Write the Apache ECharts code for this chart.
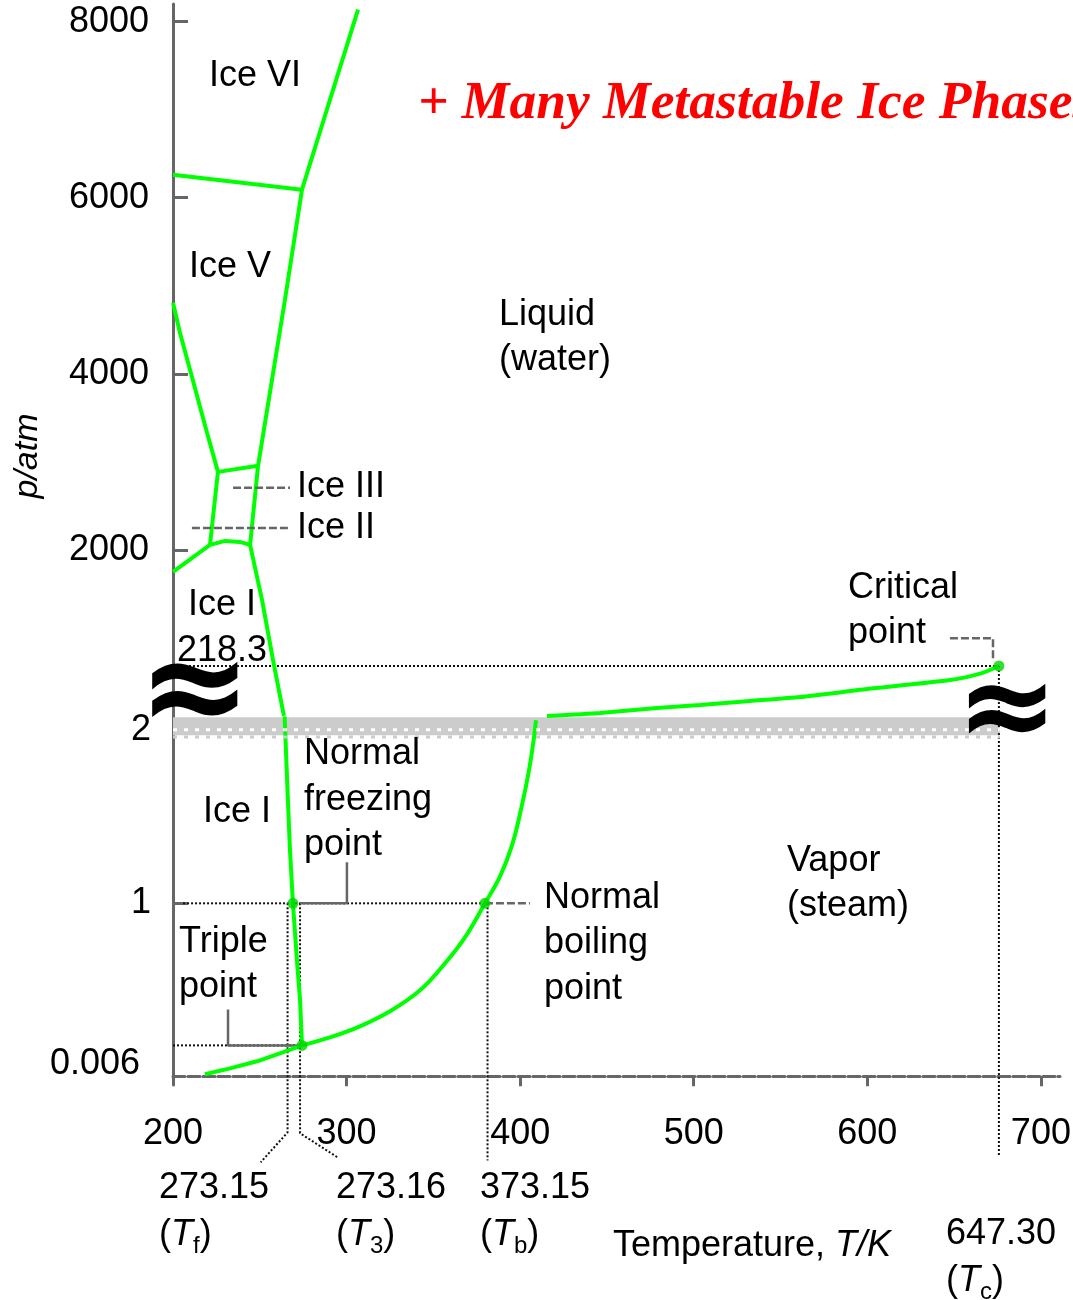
<!DOCTYPE html>
<html><head><meta charset="utf-8">
<script src="https://cdn.jsdelivr.net/npm/echarts@6/dist/echarts.min.js"></script>
<style>html,body{margin:0;padding:0;background:#fff}#c{width:1073px;height:1300px}</style>
</head><body><div id="c"></div>
<script>
// ---------------- data (T in K, p in atm; schematic diagram) -------------
const xRange = [200, 711];
const xTickValues = [200, 300, 400, 500, 600, 700];
const xMinorTicks = [300, 400, 500, 600, 700];

const yTopRange = [0, 8200];                 // upper panel, high pressure
const yTopTickValues = [2000, 4000, 6000, 8000];
const yCritRange = [0, 2627];                // upper panel, scale used near the critical point
const yCritTickValues = [218.3];
const yBotRange = [-0.05, 2.1];              // lower panel, low pressure
const yBotTickValues = [1, 2];
const yTripleRange = [-0.001676, 0.0704];    // lower panel, scale used for the triple-point label
const yTripleTickValues = [0.006];

// upper panel: ice phase boundaries
const iceVI_liquid  = [[306.6, 8136], [274.3, 6091]];
const iceV_VI       = [[200, 6261], [274.3, 6091]];
const iceV_liquid   = [[274.3, 6091], [264.5, 4841], [249.0, 2955]];
const iceV_III      = [[225.9, 2886], [249.0, 2955]];
const iceIII_liquid = [[249.0, 2955], [244.4, 2057]];
const iceII_V       = [[200, 4807], [204.0, 4466], [210.9, 3966], [219.6, 3330], [225.9, 2886]];
const iceII_III     = [[225.9, 2886], [221.3, 2057]];
const iceI_II_III   = [[221.3, 2057], [230.0, 2102], [238.6, 2091], [244.4, 2057]];
const iceI_II_left  = [[200, 1750], [221.3, 2057]];
const iceI_liquidHi = [[244.4, 2057], [251.3, 1432], [257.6, 750], [263.9, 114]];
// upper panel: liquid-vapour curve up to the critical point
const vapourHi      = [[415.4, 36.3], [446.0, 47.2], [478.8, 65.3], [503.6, 76.2], [532.4, 90.8],
                       [561.2, 105.3], [599.8, 134.3], [647.6, 167.0], [666.0, 192.4], [675.8, 218.3]];
const criticalPoint = [[675.8, 218.3]];

// lower panel
const meltingLo     = [[264.3, 2.08], [266.2, 1.595], [267.4, 1.306], [269.1, 1.0], [271.4, 0.671], [273.2, 0.439], [274.3, 0.179]];
const vapourLo      = [[274.3, 0.179], [290.4, 0.225], [307.7, 0.289], [325.0, 0.376], [342.3, 0.497], [356.7, 0.653],
                       [368.2, 0.803], [379.7, 1.0], [388.4, 1.156], [395.3, 1.335], [401.0, 1.566], [405.1, 1.769],
                       [408.0, 1.960], [409.1, 2.058]];
const sublimation   = [[218.4, 0.012], [232.8, 0.046], [248.4, 0.087], [261.6, 0.133], [274.3, 0.179]];
const triplePoint   = [[274.3, 0.179]];
const freezingPoint = [[269.1, 1.0]];
const boilingPoint  = [[379.7, 1.0]];

// guide lines
const critHoriz   = [[202.3, 218.3], [675.8, 218.3]];
const critVertHi  = [[675.8, 218.3], [675.8, 0]];
const critVertLo  = [[675.8, 2.1], [675.8, -0.462]];
const oneAtmLine  = [[205.8, 1.0], [379.7, 1.0]];
const tripleLine  = [[200, 0.179], [274.3, 0.179]];
const tfDrop      = [[266.0, 1.0], [266.0, -0.324], [250.5, -0.497]];
const t3Drop      = [[273.2, 1.0], [273.2, -0.329], [294.8, -0.468]];
const tbDrop      = [[381.2, 1.0], [381.2, -0.486]];
const freezeLead  = [[300.2, 1.237], [300.2, 1.0], [273.2, 1.0]];
const boilLead    = [[379.7, 1.0], [405.6, 1.0]];
const tripleLead  = [[231.7, 0.387], [231.7, 0.179], [274.3, 0.179]];
const critLead    = [[647.6, 319.5], [672.4, 319.5], [672.4, 246.9]];
const iceIIILead  = [[234.6, 2705], [267.4, 2705]];
const iceIILead   = [[210.9, 2250], [267.4, 2250]];
// axis break band
const bandX       = [200, 676.4];
const bandY       = [1.971, 2.075];
const bandWhiteY  = 2.003;
const bandDotY    = 1.962;

// ---------------- styles -------------
const FONT = 'Liberation Sans';
const GREEN = '#00ff00';
const GRAY = '#666666';
const greenStyle = {color: GREEN, width: 4};
const dotted = {color: '#111', width: 2, type: [2, 2]};
const leader = {color: GRAY, width: 2.5};
const leaderDash = {color: GRAY, width: 2.5, type: [8, 3]};

function seg(data, xi, yi, style, z, extra) {
  return Object.assign({type: 'line', xAxisIndex: xi, yAxisIndex: yi, data: data, symbol: 'none',
    showSymbol: false, silent: true, clip: false, lineStyle: style, z: z || 3}, extra || {});
}
function pts(data, xi, yi) {
  return {type: 'scatter', xAxisIndex: xi, yAxisIndex: yi, data: data, symbol: 'circle', symbolSize: 11,
    silent: true, itemStyle: {color: '#00d400'}, z: 8};
}
const richT = {
  i: {fontStyle: 'italic', fontSize: 36, fontFamily: FONT, lineHeight: 47, fill: '#000'},
  s: {fontSize: 24, fontFamily: FONT, lineHeight: 24, verticalAlign: 'bottom', fill: '#000'}
};
function txt(text, x, y, opt) {
  opt = opt || {};
  const va = opt.va || 'middle', al = opt.align || 'left';
  return {type: 'text', x: x, y: y, z: 100, silent: true, rotation: opt.rot || 0,
    style: Object.assign({text: text, fill: '#000', fontSize: 36, fontFamily: FONT, lineHeight: opt.lh || 45.5,
      align: al, verticalAlign: va, textAlign: al, textVerticalAlign: va, rich: opt.rich}, opt.style || {})};
}
const plain = function (v) { return String(v); };
const axisLabelBase = {color: '#000', fontSize: 36, fontFamily: FONT, formatter: plain};

const series = [
  seg(iceVI_liquid, 0, 0, greenStyle), seg(iceV_VI, 0, 0, greenStyle), seg(iceV_liquid, 0, 0, greenStyle),
  seg(iceV_III, 0, 0, greenStyle), seg(iceIII_liquid, 0, 0, greenStyle), seg(iceII_V, 0, 0, greenStyle),
  seg(iceII_III, 0, 0, greenStyle), seg(iceI_II_III, 0, 0, greenStyle), seg(iceI_II_left, 0, 0, greenStyle),
  seg(iceI_liquidHi, 0, 0, greenStyle),
  seg(iceIIILead, 0, 0, leaderDash, 4), seg(iceIILead, 0, 0, leaderDash, 4),
  seg(critHoriz, 0, 1, dotted, 2), seg(critVertHi, 0, 1, dotted, 2), seg(critLead, 0, 1, leaderDash, 2),
  seg(vapourHi, 0, 1, greenStyle, 3, {smooth: 0.2}),
  pts(criticalPoint, 0, 1),
  seg(critVertLo, 1, 2, dotted, 2), seg(oneAtmLine, 1, 2, dotted, 2), seg(tripleLine, 1, 2, dotted, 2),
  seg(tfDrop, 1, 2, dotted, 2), seg(t3Drop, 1, 2, dotted, 2), seg(tbDrop, 1, 2, dotted, 2),
  seg(freezeLead, 1, 2, leader, 2), seg(boilLead, 1, 2, leaderDash, 2), seg(tripleLead, 1, 2, leader, 2),
  seg(meltingLo, 1, 2, greenStyle), seg(vapourLo, 1, 2, greenStyle, 3, {smooth: 0.4}), seg(sublimation, 1, 2, greenStyle),
  pts(triplePoint, 1, 2), pts(freezingPoint, 1, 2), pts(boilingPoint, 1, 2),
  {type: 'line', xAxisIndex: 1, yAxisIndex: 2, data: [], silent: true, z: 6,
   markArea: {silent: true, itemStyle: {color: '#cccccc'},
     data: [[{coord: [bandX[0], bandY[0]]}, {coord: [bandX[1], bandY[1]]}]]}},
  seg([[bandX[0], bandWhiteY], [bandX[1], bandWhiteY]], 1, 2, {color: '#fff', width: 3, type: [4, 7]}, 7),
  seg([[bandX[0], bandDotY], [bandX[1], bandDotY]], 1, 2, {color: '#cccccc', width: 3, type: [4, 7]}, 7)
];

const option = {
  animation: false,
  backgroundColor: '#fff',
  grid: [
    {left: 173, right: 13, top: 4, height: 722, containLabel: false, outerBoundsMode: 'none'},
    {left: 173, right: 13, top: 713, height: 372, containLabel: false, outerBoundsMode: 'none'}
  ],
  xAxis: [
    {gridIndex: 0, type: 'value', min: xRange[0], max: xRange[1], show: false},
    {gridIndex: 1, type: 'value', min: xRange[0], max: xRange[1], position: 'bottom',
     axisLine: {onZero: true, onZeroAxisIndex: 2, lineStyle: {color: GRAY, width: 3, type: [12, 3]}},
     axisTick: {customValues: xMinorTicks, length: 10, lineStyle: {color: GRAY, width: 3}},
     axisLabel: Object.assign({customValues: xTickValues, margin: 31, lineHeight: 36}, axisLabelBase),
     splitLine: {show: false}}
  ],
  yAxis: [
    {gridIndex: 0, type: 'value', position: 'left', min: yTopRange[0], max: yTopRange[1],
     axisLine: {show: true, onZero: false, lineStyle: {color: GRAY, width: 3}},
     axisTick: {show: true, inside: true, length: 15, customValues: yTopTickValues, lineStyle: {color: GRAY, width: 3}},
     axisLabel: Object.assign({customValues: yTopTickValues, margin: 24}, axisLabelBase),
     splitLine: {show: false}},
    {gridIndex: 0, type: 'value', position: 'left', offset: 0, min: yCritRange[0], max: yCritRange[1],
     axisLine: {show: false, onZero: false}, axisTick: {show: false}, splitLine: {show: false},
     axisLabel: Object.assign({customValues: yCritTickValues, inside: true, margin: 4, verticalAlign: 'bottom', lineHeight: 29}, axisLabelBase)},
    {gridIndex: 1, type: 'value', position: 'left', min: yBotRange[0], max: yBotRange[1],
     axisLine: {show: true, onZero: false, lineStyle: {color: GRAY, width: 3}},
     axisTick: {show: true, inside: true, length: 15, customValues: yBotTickValues, lineStyle: {color: GRAY, width: 3}},
     axisLabel: Object.assign({customValues: yBotTickValues, margin: 22}, axisLabelBase),
     splitLine: {show: false}},
    {gridIndex: 1, type: 'value', position: 'left', offset: 0, min: yTripleRange[0], max: yTripleRange[1],
     axisLine: {show: false, onZero: false}, axisTick: {show: false}, splitLine: {show: false},
     axisLabel: Object.assign({customValues: yTripleTickValues, margin: 33, verticalAlign: 'top', lineHeight: 38}, axisLabelBase)}
  ],
  graphic: [
    txt('+ Many Metastable Ice Phases', 418, 104, {style: {fill: '#ff0000', fontSize: 53.5, fontFamily: 'Liberation Serif', fontWeight: 'bold', fontStyle: 'italic'}}),
    txt('p/atm', 28, 456, {align: 'center', rot: Math.PI / 2, style: {fontStyle: 'italic', fontSize: 34}}),
    txt('Ice VI', 255, 76, {align: 'center'}),
    txt('Ice V', 230, 267, {align: 'center'}),
    txt('Liquid\n(water)', 499, 315 - 22.75, {va: 'top'}),
    txt('Ice III', 297, 487),
    txt('Ice II', 297, 528),
    txt('Ice I', 188, 605),
    txt('Critical\npoint', 848, 588 - 22.75, {va: 'top'}),
    txt('Normal\nfreezing\npoint', 304, 754.5 - 22.75, {va: 'top'}),
    txt('Ice I', 203, 812),
    txt('Triple\npoint', 179, 942 - 22.75, {va: 'top'}),
    txt('Normal\nboiling\npoint', 544, 898 - 22.75, {va: 'top'}),
    txt('Vapor\n(steam)', 787, 861 - 22.75, {va: 'top'}),
    txt('273.15\n({i|T}{s|f})', 159, 1188 - 23.5, {va: 'top', lh: 47, rich: richT}),
    txt('273.16\n({i|T}{s|3})', 336, 1188 - 23.5, {va: 'top', lh: 47, rich: richT}),
    txt('373.15\n({i|T}{s|b})', 480, 1188 - 23.5, {va: 'top', lh: 47, rich: richT}),
    txt('647.30\n({i|T}{s|c})', 946, 1234 - 23.5, {va: 'top', lh: 47, rich: richT}),
    txt('Temperature, {i|T/K}', 613, 1246, {lh: 47, rich: richT}),
    txt('\u2248', 195, 697, {align: 'center', lh: 136, style: {fontSize: 136, fontWeight: 'bold', fontFamily: 'DejaVu Sans'}}),
    txt('\u2248', 1007, 715, {align: 'center', lh: 120, style: {fontSize: 122, fontWeight: 'bold', fontFamily: 'DejaVu Sans'}})
  ],
  series: series
};
const chart = echarts.init(document.getElementById('c'), null, {renderer: 'canvas', width: 1073, height: 1300});
chart.setOption(option);
</script></body></html>
